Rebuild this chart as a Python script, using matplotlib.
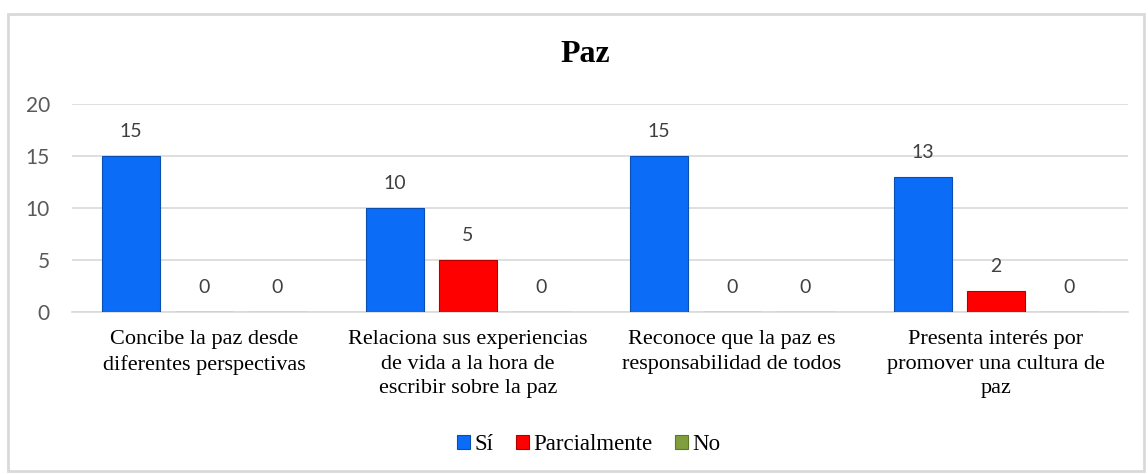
import numpy as np
import matplotlib.pyplot as plt
from matplotlib.patches import Rectangle

categories = [
    "Concibe la paz desde\ndiferentes perspectivas",
    "Relaciona sus experiencias\nde vida a la hora de\nescribir sobre la paz",
    "Reconoce que la paz es\nresponsabilidad de todos",
    "Presenta interés por\npromover una cultura de\npaz",
]
series_names = ["Sí", "Parcialmente", "No"]
si_values = [15, 10, 15, 13]
parcial_values = [0, 5, 0, 2]
no_values = [0, 0, 0, 0]
y_ticks = [0, 5, 10, 15, 20]

colors = ["#0A6CF7", "#FF0000", "#7F9F3F"]
edge_colors = ["#0A4FB0", "#B00000", "#5A7A2A"]

W, H = 1148, 474
fig = plt.figure(figsize=(W / 100, H / 100), dpi=100)
ax = fig.add_axes([72 / W, 1 - 312 / H, (1128 - 72) / W, (312 - 104) / H])

x = np.arange(len(categories))
bar_width = 0.223
step = 0.2765

for i, (name, values) in enumerate(zip(series_names, [si_values, parcial_values, no_values])):
    positions = x + (i - 1) * step
    bars = ax.bar(
        positions,
        values,
        width=bar_width,
        color=colors[i],
        edgecolor=edge_colors[i],
        linewidth=0.8,
        label=name,
        zorder=3,
    )
    for rect, v in zip(bars, values):
        ax.annotate(
            str(v),
            xy=(rect.get_x() + rect.get_width() / 2, v),
            xytext=(0, 13.5),
            textcoords="offset points",
            ha="center",
            va="baseline",
            fontsize=14,
            family="Lato",
            color="#404040",
        )

ax.set_xlim(-0.5, len(categories) - 0.5)
ax.set_ylim(0, 20)
ax.set_yticks(y_ticks)
ax.set_xticks(x)
ax.set_xticklabels(categories, family="Liberation Serif", fontsize=16,
                   color="#000000", linespacing=1.4)
ax.tick_params(axis="y", length=0, pad=16, labelsize=15, labelcolor="#595959")
ax.tick_params(axis="x", length=0, pad=13)
for lbl in ax.get_yticklabels():
    lbl.set_family("Lato")
ax.grid(axis="y", color="#D9D9D9", linewidth=1.2, zorder=0)
for side in ["top", "right", "left"]:
    ax.spines[side].set_visible(False)
ax.spines["bottom"].set_color("#D9D9D9")
ax.spines["bottom"].set_linewidth(1.2)

fig.text(585 / W, 1 - 54 / H, "Paz", ha="center", va="center",
         family="Liberation Serif", fontweight="bold", fontsize=23)

fig.legend(
    loc="center",
    bbox_to_anchor=(589 / W, 1 - 445 / H),
    ncol=3,
    frameon=False,
    prop={"family": "Liberation Serif", "size": 16.5},
    handlelength=0.55,
    handleheight=0.55,
    handletextpad=0.2,
    columnspacing=1.0,
)

fig.patches.append(Rectangle((8 / W, 1 - 471 / H), (1144 - 8) / W, (471 - 14) / H,
                             transform=fig.transFigure, fill=False,
                             edgecolor="#D9D9D9", linewidth=2))

fig.savefig("out.png", dpi=100)
